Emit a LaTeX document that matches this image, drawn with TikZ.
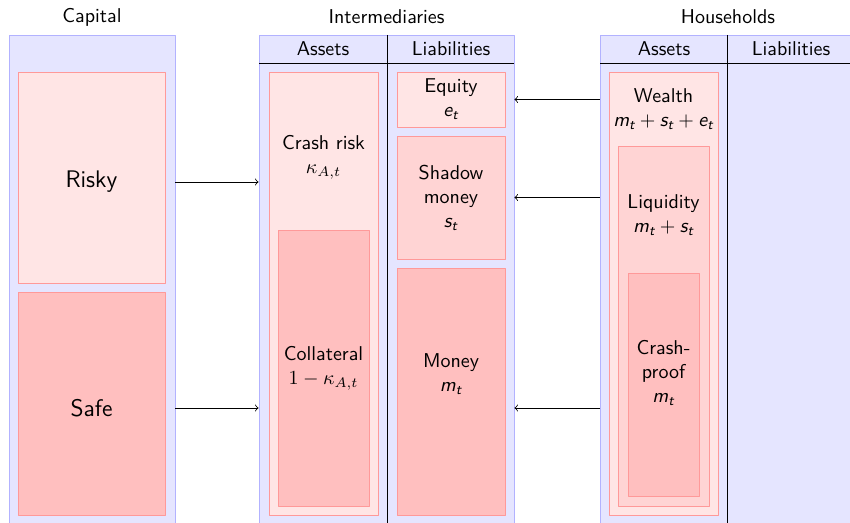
\documentclass[tikz,border=0pt]{standalone}
\usepackage{amsmath}
\usetikzlibrary{positioning}
\newcommand{\sv}[1]{\text{\sffamily\itshape #1}}
\begin{document}
\begin{tikzpicture}[x=0.5pt,y=-0.5pt,font=\sffamily,>=to,line join=round,
	sheet/.style={draw=blue!30,fill=blue!10,inner sep=0pt},
	lite/.style={draw=red!40,fill=red!10,inner sep=0pt,align=center},
	mid/.style={draw=red!40,fill=red!17,inner sep=0pt,align=center},
	dark/.style={draw=red!40,fill=red!25,inner sep=0pt,align=center},
	sz/.style 2 args={minimum width=#1*0.5pt,minimum height=#2*0.5pt}]
	\useasboundingbox (0,0) rectangle (850,523);
	% sheets
	\node[sheet,sz={166}{495}] (capital) at (92,282.5) {};
	\node[sheet,sz={255}{495}] (inter) at (386.5,282.5) {};
	\node[sheet,sz={260}{495}] (house) at (730,282.5) {};
	\node (capt) at (92,17) {Capital};
	\node (intert) at (386.5,17) {Intermediaries};
	\node (houset) at (728,17) {Households};
	\draw (259,63)--(514,63) (387,35)--(387,530)
		(600,63)--(860,63) (727,35)--(727,530);
	\node (ia) at (323,49) {Assets};
	\node (il) at (451,49) {Liabilities};
	\node (ha) at (664,49) {Assets};
	\node (hl) at (791,49) {Liabilities};
	% capital
	\node[lite,sz={147}{211}] (risky) at (91.5,177.5) {};
	\node[font=\large\sffamily] (riskyl) at (91.5,182) {Risky};
	\node[dark,sz={147}{223}] (safe) at (91.5,403.5) {};
	\node[font=\large\sffamily] (safel) at (91.5,408) {Safe};
	% intermediaries
	\node[lite,sz={109}{443}] (crash) at (323.5,293.5) {};
	\node[align=center] (crashl) at (323.5,157) {Crash risk\\$\kappa_{A,t}$};
	\node[dark,sz={91}{276}] (coll) at (323.5,368) {Collateral\\$1-\kappa_{A,t}$};
	\node[lite,sz={108}{55}] (equity) at (451,99.5) {Equity\\$\sv{e}_{\sv{t}}$};
	\node[mid,sz={108}{123}] (shadow) at (451,197.5) {Shadow\\money\\$\sv{s}_{\sv{t}}$};
	\node[dark,sz={108}{247}] (money) at (451,391.5) {};
	\node[align=center] (moneyl) at (451,374) {Money\\$\sv{m}_{\sv{t}}$};
	% households
	\node[lite,sz={109}{443}] (wealth) at (663.5,293.5) {};
	\node[align=center] (wealthl) at (663.5,109) {Wealth\\$\sv{m}_{\sv{t}}+\sv{s}_{\sv{t}}+\sv{e}_{\sv{t}}$};
	\node[mid,sz={91}{360}] (liq) at (663.5,326) {};
	\node[align=center] (liql) at (663.5,215) {Liquidity\\$\sv{m}_{\sv{t}}+\sv{s}_{\sv{t}}$};
	\node[dark,sz={71}{223}] (proof) at (663.5,384.5) {};
	\node[align=center] (proofl) at (663.5,373) {Crash-\\proof\\$\sv{m}_{\sv{t}}$};
	% flows
	\draw[->] (capital.east |- riskyl) -- (inter.west |- riskyl);
	\draw[->] (capital.east |- safel) -- (inter.west |- safel);
	\draw[->] (house.west |- equity) -- (inter.east |- equity);
	\draw[->] (house.west |- shadow) -- (inter.east |- shadow);
	\draw[->] (house.west |- safel) -- (inter.east |- safel);
\end{tikzpicture}
\end{document}
